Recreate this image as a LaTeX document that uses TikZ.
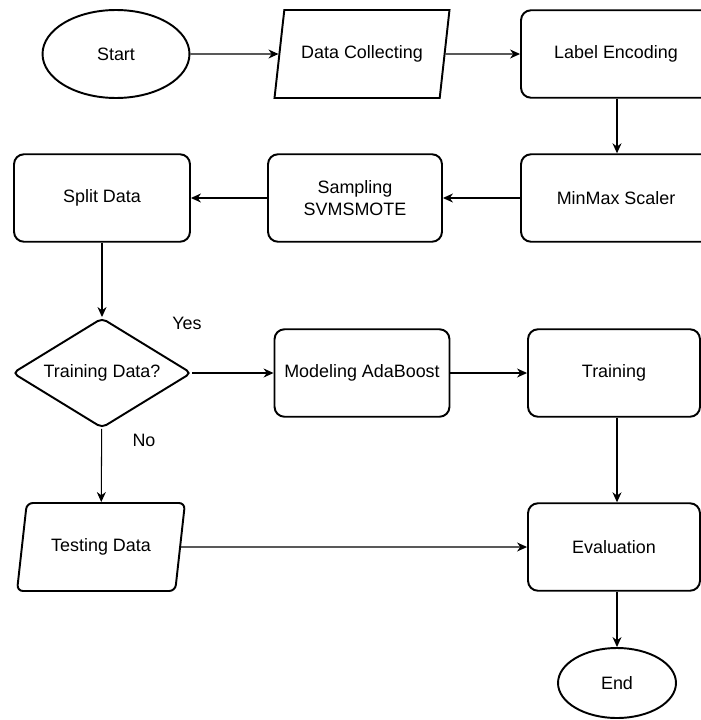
\documentclass[tikz,border=0pt]{standalone}
\usepackage{fontspec}
\setmainfont{Liberation Sans}
\usetikzlibrary{shapes.geometric,arrows.meta}

\tikzset{
  box/.style={draw,line width=1.1pt,rounded corners=0.2cm,align=center,
    minimum width=3.5cm,minimum height=1.75cm},
  terminal/.style={draw,ellipse,line width=1.1pt},
  inout/.style={draw,trapezium,trapezium left angle=71,trapezium right angle=109,
    trapezium stretches body,line width=1.1pt,minimum height=1.76cm},
  decision/.style={draw,diamond,aspect=1.63,line width=1.1pt,rounded corners=0.1cm,
    minimum width=3.58cm,minimum height=2.2cm,inner sep=0pt},
  flow/.style={-{Stealth[length=0.2cm,width=0.18cm]},line width=0.6pt}
}

\begin{document}
\begin{tikzpicture}[x=0.02cm,y=-0.02cm,font=\fontsize{10.2}{12.5}\selectfont]
      \useasboundingbox (0,0) rectangle (700,720);
      % \draw[help lines,step=50](0,0) grid (700,720);

      \node[terminal,minimum width=2.94cm,minimum height=1.76cm] (start) at (116,54) {Start};
      \node[inout,minimum width=3.5cm] (collect) at (362,54) {Data Collecting};
      \node[box,minimum width=3.8cm] (encode) at (616,54) {Label Encoding};

      \node[box,minimum width=3.8cm] (scaler) at (616,198) {MinMax Scaler};
      \node[box,minimum width=3.48cm] (sampling) at (355,198) {Sampling\\SVMSMOTE};
      \node[box,minimum width=3.52cm] (split) at (102,198) {Split Data};

      \node[decision] (istrain) at (102,373) {Training Data?};
      \node[box] (adaboost) at (362,373) {Modeling AdaBoost};
      \node[box,minimum width=3.44cm] (train) at (614,373) {Training};

      \node[inout,rounded corners=0.12cm,minimum width=3.36cm] (testing) at (101,547) {Testing Data};
      \node[box,minimum width=3.44cm] (eval) at (614,547) {Evaluation};
      \node[terminal,minimum width=2.36cm,minimum height=1.4cm] (finish) at (617,683) {End};

      \node (yes) at (187,323) {Yes};
      \node (no) at (144,440) {No};

      \draw[flow] (start) -- (collect);
      \draw[flow] (collect) -- (encode);
      \draw[flow] (encode.south -| 617,0) -- (scaler.north -| 617,0);
      \draw[flow] (scaler) -- (sampling);
      \draw[flow] (sampling) -- (split);
      \draw[flow] (split) -- (istrain);
      \draw[flow] (istrain) -- (adaboost);
      \draw[flow] (adaboost) -- (train);
      \draw[flow] (istrain) -- (testing);
      \draw[flow] (train.south -| 617,0) -- (eval.north -| 617,0);
      \draw[flow] (testing) -- (eval);
      \draw[flow] (eval.south -| 617,0) -- (finish);
    \end{tikzpicture}
\end{document}
